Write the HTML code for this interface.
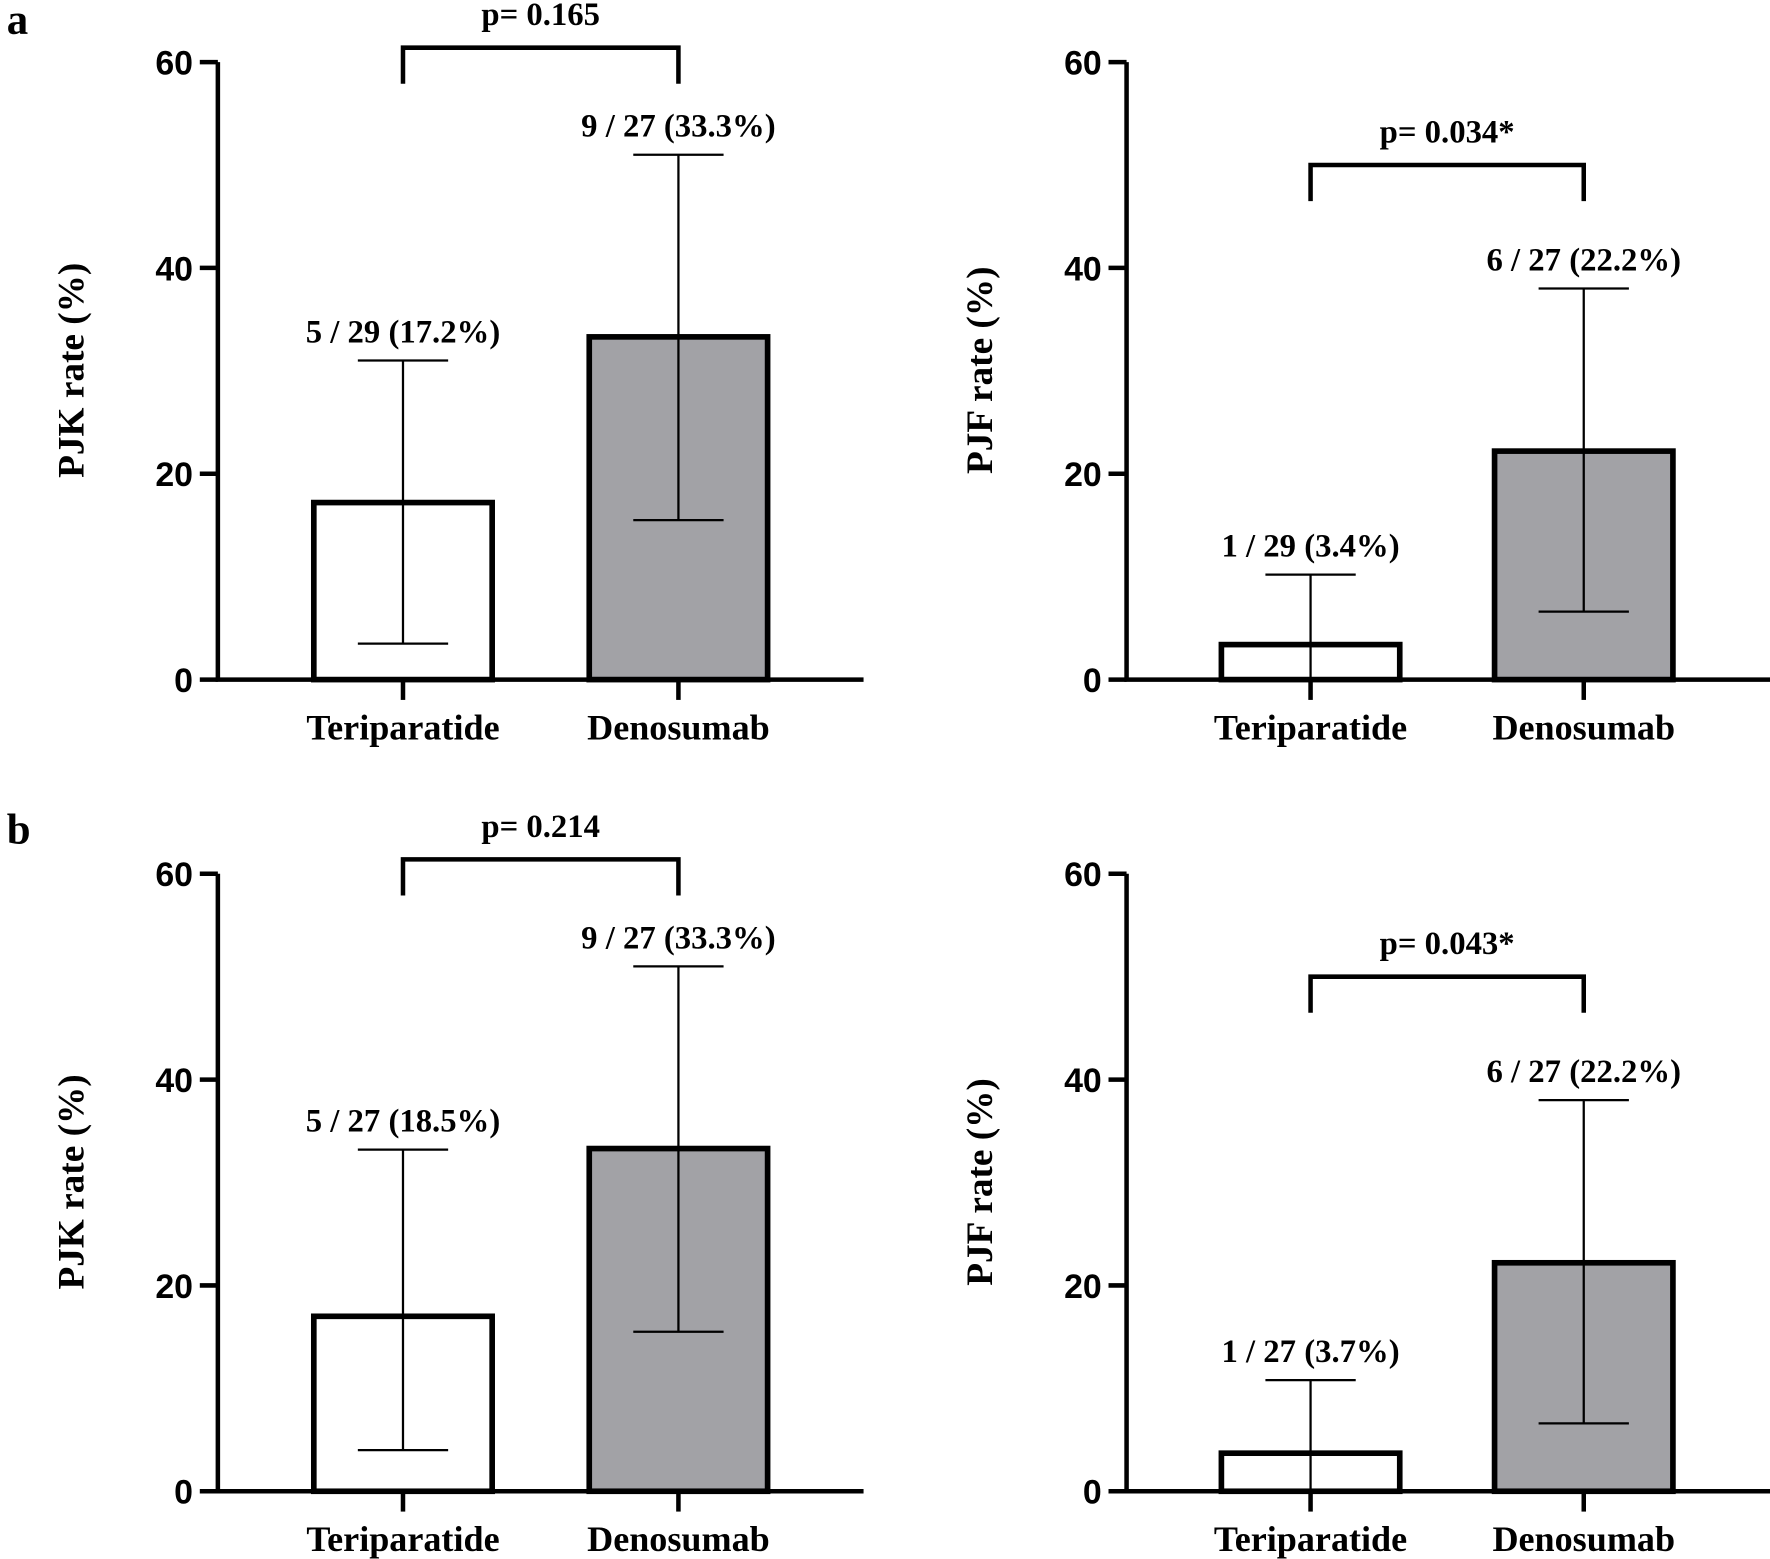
<!DOCTYPE html>
<html><head><meta charset="utf-8"><style>
html,body{margin:0;padding:0;background:#fff}
svg{display:block}
.tk{font-family:"Liberation Sans",sans-serif;font-weight:bold;font-size:30px}
.sf{font-family:"Liberation Serif",serif;font-weight:bold}
</style></head><body>
<svg id="fig" width="1770" height="1559" viewBox="0 0 1568 1381" preserveAspectRatio="none" xmlns="http://www.w3.org/2000/svg">
<text x="6" y="30" class="sf" font-size="38">a</text>
<text x="6" y="747" class="sf" font-size="38">b</text>
</svg>
<script>
const categories = ["Teriparatide", "Denosumab"];
const valuesA1 = [17.2, 33.3], lowA1 = [3.5, 15.5], highA1 = [31, 51];
const valuesA2 = [3.4, 22.2], lowA2 = [0, 6.6], highA2 = [10.2, 38];
const valuesB1 = [17, 33.3], lowB1 = [4, 15.5], highB1 = [33.2, 51];
const valuesB2 = [3.7, 22.2], lowB2 = [0, 6.6], highB2 = [10.8, 38];
const labelsA1 = ["5 / 29 (17.2%)", "9 / 27 (33.3%)"];
const labelsA2 = ["1 / 29 (3.4%)", "6 / 27 (22.2%)"];
const labelsB1 = ["5 / 27 (18.5%)", "9 / 27 (33.3%)"];
const labelsB2 = ["1 / 27 (3.7%)", "6 / 27 (22.2%)"];
const pA1 = "p= 0.165", pA2 = "p= 0.034*", pB1 = "p= 0.214", pB2 = "p= 0.043*";
const yTicks = [0, 20, 40, 60];
const fills = ["#ffffff", "#a2a2a6"];

const svg = document.getElementById('fig');
const NS = "http://www.w3.org/2000/svg";
function mk(tag, attrs, parent) {
  const e = document.createElementNS(NS, tag);
  for (const k in attrs) e.setAttribute(k, attrs[k]);
  (parent || svg).appendChild(e);
  return e;
}
function panel(id, ax, y0, xEnd, cx, vals, lo, hi, labels, ptext, bracketV, title) {
  const g = mk('g', {});
  
  
  const sy = v => y0 - v * (547 / 60);
  vals.forEach((v, i) => {
    const r = mk('rect', {x: cx[i] - 79, y: sy(v), width: 158, height: y0 - sy(v), fill: fills[i], stroke: '#000', 'stroke-width': 5}, g);
    
    
    const e = mk('path', {d: `M${cx[i]},${sy(lo[i])}V${sy(hi[i])}M${cx[i]-40},${sy(hi[i])}H${cx[i]+40}` + (lo[i] > 0 ? `M${cx[i]-40},${sy(lo[i])}H${cx[i]+40}` : ''), stroke: '#000', 'stroke-width': 2, fill: 'none'}, g);
    
    
    const t = mk('text', {x: cx[i], y: sy(hi[i]) - 16, 'text-anchor': 'middle', class: 'sf', 'font-size': 29}, g);
    t.textContent = labels[i];
    
    
    const c = mk('text', {x: cx[i], y: y0 + 53, 'text-anchor': 'middle', class: 'sf', 'font-size': 32}, g);
    c.textContent = categories[i];
    
    
    mk('line', {x1: cx[i], x2: cx[i], y1: y0, y2: y0 + 18, stroke: '#000', 'stroke-width': 4}, g);
  });
  const a = mk('path', {d: `M${ax},${sy(60)}V${y0}H${xEnd}`, stroke: '#000', 'stroke-width': 4, fill: 'none'}, g);
  
  
  yTicks.forEach(v => {
    mk('line', {x1: ax - 16, x2: ax, y1: sy(v), y2: sy(v), stroke: '#000', 'stroke-width': 4}, g);
    const t = mk('text', {x: ax - 22, y: sy(v) + 11, 'text-anchor': 'end', class: 'tk'}, g);
    t.textContent = v;
    
    
  });
  const yt = mk('text', {x: 0, y: 0, transform: `translate(${ax - 119},${y0 - 274}) rotate(-90)`, 'text-anchor': 'middle', class: 'sf', 'font-size': 33}, g);
  yt.textContent = title;
  
  
  const by = sy(bracketV);
  const b = mk('path', {d: `M${cx[0]},${by + 32}V${by}H${cx[1]}V${by + 32}`, stroke: '#000', 'stroke-width': 4, fill: 'none'}, g);
  
  
  const p = mk('text', {x: (cx[0] + cx[1]) / 2, y: by - 20, 'text-anchor': 'middle', class: 'sf', 'font-size': 29}, g);
  p.textContent = ptext;
  
  
}
panel('panel-a-pjk', 193, 602, 765, [357, 601], valuesA1, lowA1, highA1, labelsA1, pA1, 61.4, 'PJK rate (%)');
panel('panel-a-pjf', 998, 602, 1568, [1161, 1403], valuesA2, lowA2, highA2, labelsA2, pA2, 50, 'PJF rate (%)');
panel('panel-b-pjk', 193, 1321, 765, [357, 601], valuesB1, lowB1, highB1, labelsB1, pB1, 61.4, 'PJK rate (%)');
panel('panel-b-pjf', 998, 1321, 1568, [1161, 1403], valuesB2, lowB2, highB2, labelsB2, pB2, 50, 'PJF rate (%)');
</script>
</body></html>
